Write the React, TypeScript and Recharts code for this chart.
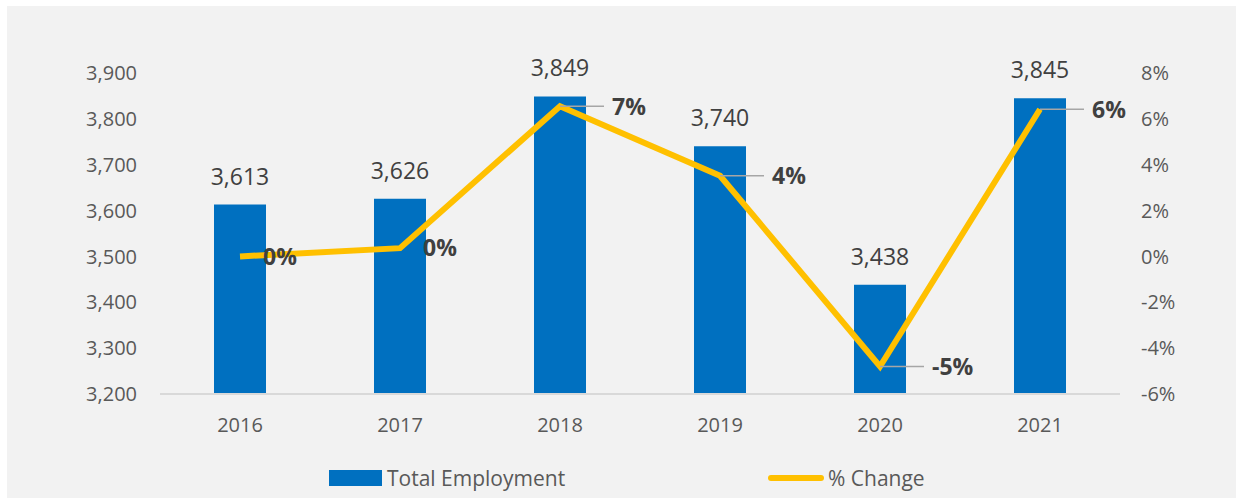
import React from 'react';
import { ComposedChart, Bar, Line, XAxis, YAxis, LabelList } from 'recharts';

const years = ['2016', '2017', '2018', '2019', '2020', '2021'];
const totalEmployment = [3613, 3626, 3849, 3740, 3438, 3845];
const pctChange = [0, 0.0036, 0.0655, 0.0352, -0.048, 0.0642];
const leftTicks = [3200, 3300, 3400, 3500, 3600, 3700, 3800, 3900];
const rightTicks = [-0.06, -0.04, -0.02, 0, 0.02, 0.04, 0.06, 0.08];

const data = years.map((year, i) => ({
  year,
  total: totalEmployment[i],
  pct: pctChange[i]
}));

const FONT = '"Open Sans", "Noto Sans", sans-serif';
const BLUE = '#0070C0';
const GOLD = '#FFC000';

const fmtPct = (v: number) => `${Math.round(v * 100)}%`;

const BarValueLabel = (props: any) => {
  const { x, y, width, value } = props;
  return (
    <text
      x={x + width / 2}
      y={y - 20}
      textAnchor="middle"
      fill="#404040"
      fontSize={23}
      fontFamily={FONT}
    >
      {Number(value).toLocaleString('en-US')}
    </text>
  );
};

const PctLabel = (props: any) => {
  const { x, y, value, index } = props;
  const txt = fmtPct(value);
  // first two labels sit next to the point, the rest get a leader line
  if (index < 2) {
    return (
      <text x={x + 23} y={y} dy="0.36em" fill="#404040" fontSize={23} fontWeight="bold" fontFamily={FONT}>
        {txt}
      </text>
    );
  }
  return (
    <g>
      <line x1={x} y1={y} x2={x + 44} y2={y} stroke="#A6A6A6" strokeWidth={1.5} />
      <text x={x + 52} y={y} dy="0.36em" fill="#404040" fontSize={23} fontWeight="bold" fontFamily={FONT}>
        {txt}
      </text>
    </g>
  );
};

export default function App() {
  return (
    <div style={{ position: 'absolute', left: 0, top: 0, width: 1236, height: 498, background: '#fff' }}>
      <div style={{ position: 'absolute', left: 7, top: 6, width: 1229, height: 492, background: '#F2F2F2' }}>
        <ComposedChart
          width={1229}
          height={492}
          data={data}
          margin={{ top: 67, right: 56, bottom: 64, left: 93 }}
          style={{ fontFamily: FONT }}
        >
          <XAxis
            dataKey="year"
            height={40}
            tickSize={0}
            tickMargin={24}
            axisLine={{ stroke: '#D9D9D9', strokeWidth: 2 }}
            tickLine={false}
            tick={{ fill: '#595959', fontSize: 20 }}
          />
          <YAxis
            yAxisId="left"
            orientation="left"
            width={60}
            domain={[3200, 3900]}
            ticks={leftTicks}
            allowDataOverflow
            axisLine={false}
            tickLine={false}
            tickSize={0}
            tickMargin={23}
            tick={{ fill: '#595959', fontSize: 20 }}
            tickFormatter={(v: number) => v.toLocaleString('en-US')}
          />
          <YAxis
            yAxisId="right"
            orientation="right"
            width={60}
            domain={[-0.06, 0.08]}
            ticks={rightTicks}
            allowDataOverflow
            axisLine={false}
            tickLine={false}
            tickSize={0}
            tickMargin={21}
            tick={{ fill: '#595959', fontSize: 20, textAnchor: 'start' }}
            tickFormatter={fmtPct}
          />
          <Bar yAxisId="left" dataKey="total" fill={BLUE} barSize={52} isAnimationActive={false}>
            <LabelList dataKey="total" content={BarValueLabel} />
          </Bar>
          <Line
            yAxisId="right"
            dataKey="pct"
            type="linear"
            stroke={GOLD}
            strokeWidth={6}
            dot={false}
            activeDot={false}
            isAnimationActive={false}
          >
            <LabelList dataKey="pct" content={PctLabel} />
          </Line>
        </ComposedChart>
      </div>
      <div
        style={{
          position: 'absolute',
          left: 329,
          top: 466,
          height: 24,
          display: 'flex',
          alignItems: 'center',
          fontFamily: FONT,
          fontSize: 21,
          color: '#595959',
          whiteSpace: 'nowrap'
        }}
      >
        <span style={{ display: 'inline-block', width: 53, height: 16, background: BLUE, marginRight: 5 }} />
        <span style={{ display: 'inline-block', width: 381 }}>Total Employment</span>
        <span style={{ display: 'inline-block', width: 56, height: 6, borderRadius: 3, background: GOLD, marginRight: 4 }} />
        <span>% Change</span>
      </div>
    </div>
  );
}
